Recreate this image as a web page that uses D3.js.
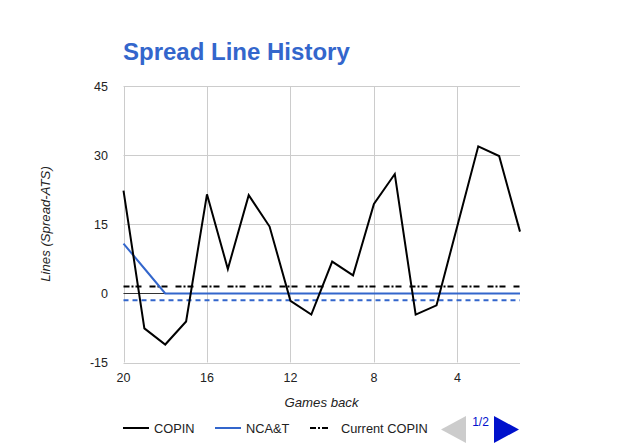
<!DOCTYPE html>
<html><head><meta charset="utf-8">
<script src="https://cdn.jsdelivr.net/npm/d3@7"></script>
<style>body{margin:0;background:#fff}svg{display:block;font-family:"Liberation Sans",Arial,sans-serif}</style>
</head><body><svg id="c" width="643" height="448"></svg>
<script>
const gamesBack = [20,19,18,17,16,15,14,13,12,11,10,9,8,7,6,5,4,3,2,1];
const copin = [22.3,-7.6,-11.1,-6.1,21.5,5.3,21.3,14.5,-1.6,-4.6,6.9,3.9,19.4,25.9,-4.6,-2.6,14.7,31.9,29.8,13.4];
const ncat = [10.8,5.4,0,0,0,0,0,0,0,0,0,0,0,0,0,0,0,0,0,0];
const currentCopin = 1.5;
const currentNcat = -1.5;
const yTicks = [-15,0,15,30,45];
const xTicks = [20,16,12,8,4];

const svg = d3.select("#c");
const L=123.5, R=520, T=86, B=362.5;
const x = d3.scaleLinear().domain([20,1]).range([L,R]);
const y = d3.scaleLinear().domain([-15,45]).range([B,T]);

svg.append("text").attr("x",123).attr("y",60).attr("fill","#3366cc")
  .attr("font-size",24).attr("font-weight","bold").text("Spread Line History");

// gridlines
svg.append("g").selectAll("line").data(yTicks).join("line")
  .attr("x1",L).attr("x2",R).attr("y1",d=>Math.round(y(d))+0.5).attr("y2",d=>Math.round(y(d))+0.5)
  .attr("stroke","#cccccc");
svg.append("g").selectAll("line").data(xTicks).join("line")
  .attr("x1",d=>Math.round(x(d))+0.5).attr("x2",d=>Math.round(x(d))+0.5).attr("y1",T).attr("y2",B)
  .attr("stroke","#cccccc");

// axis labels
svg.append("g").selectAll("text").data(yTicks).join("text")
  .attr("x",108).attr("y",d=>y(d)+4.5).attr("text-anchor","end").attr("font-size",12.5).attr("fill","#222")
  .text(d=>d);
svg.append("g").selectAll("text").data(xTicks).join("text")
  .attr("x",d=>x(d)).attr("y",382).attr("text-anchor","middle").attr("font-size",12.5).attr("fill","#222")
  .text(d=>d);

// zero baseline
svg.append("line").attr("x1",L).attr("x2",R).attr("y1",Math.round(y(0))+0.5).attr("y2",Math.round(y(0))+0.5).attr("stroke","#333");

// reference lines
svg.append("line").attr("x1",L).attr("x2",R).attr("y1",y(currentCopin)).attr("y2",y(currentCopin))
  .attr("stroke","#000").attr("stroke-width",2).attr("stroke-dasharray","6,2,2,2,6,8");
svg.append("line").attr("x1",L).attr("x2",R).attr("y1",y(currentNcat)).attr("y2",y(currentNcat))
  .attr("stroke","#3366cc").attr("stroke-width",2).attr("stroke-dasharray","5,4");

const line = d3.line().x((d,i)=>x(gamesBack[i])).y(d=>y(d));
svg.append("path").datum(ncat).attr("d",line).attr("fill","none").attr("stroke","#3366cc").attr("stroke-width",2);
svg.append("path").datum(copin).attr("d",line).attr("fill","none").attr("stroke","#000").attr("stroke-width",2);

// axis titles
svg.append("text").attr("x",321.5).attr("y",407).attr("text-anchor","middle").attr("font-size",13.2)
  .attr("font-style","italic").attr("fill","#222").text("Games back");
svg.append("text").attr("transform","translate(50,224) rotate(-90)").attr("text-anchor","middle")
  .attr("font-size",13.2).attr("font-style","italic").attr("fill","#222").text("Lines (Spread-ATS)");

// legend
const legY = 428;
const leg = [
  {name:"COPIN", color:"#000", dash:null, x:123},
  {name:"NCA&T", color:"#3366cc", dash:null, x:215},
  {name:"Current COPIN", color:"#000", dash:"6,2,2,2,6,8", x:310}
];
const lg = svg.append("g").selectAll("g").data(leg).join("g");
lg.append("line").attr("x1",d=>d.x).attr("x2",d=>d.x+26).attr("y1",legY).attr("y2",legY)
  .attr("stroke",d=>d.color).attr("stroke-width",2).attr("stroke-dasharray",d=>d.dash);
lg.append("text").attr("x",d=>d.x+31).attr("y",legY+4.5).attr("font-size",12.8).attr("fill","#222").text(d=>d.name);

svg.append("path").attr("d","M466,416 L441,429.5 L466,443 Z").attr("fill","#cccccc");
svg.append("path").attr("d","M494,416 L519,429.5 L494,443 Z").attr("fill","#0011cc");
svg.append("text").attr("x",480.5).attr("y",426).attr("text-anchor","middle").attr("font-size",12).attr("fill","#0011cc").text("1/2");
</script></body></html>
